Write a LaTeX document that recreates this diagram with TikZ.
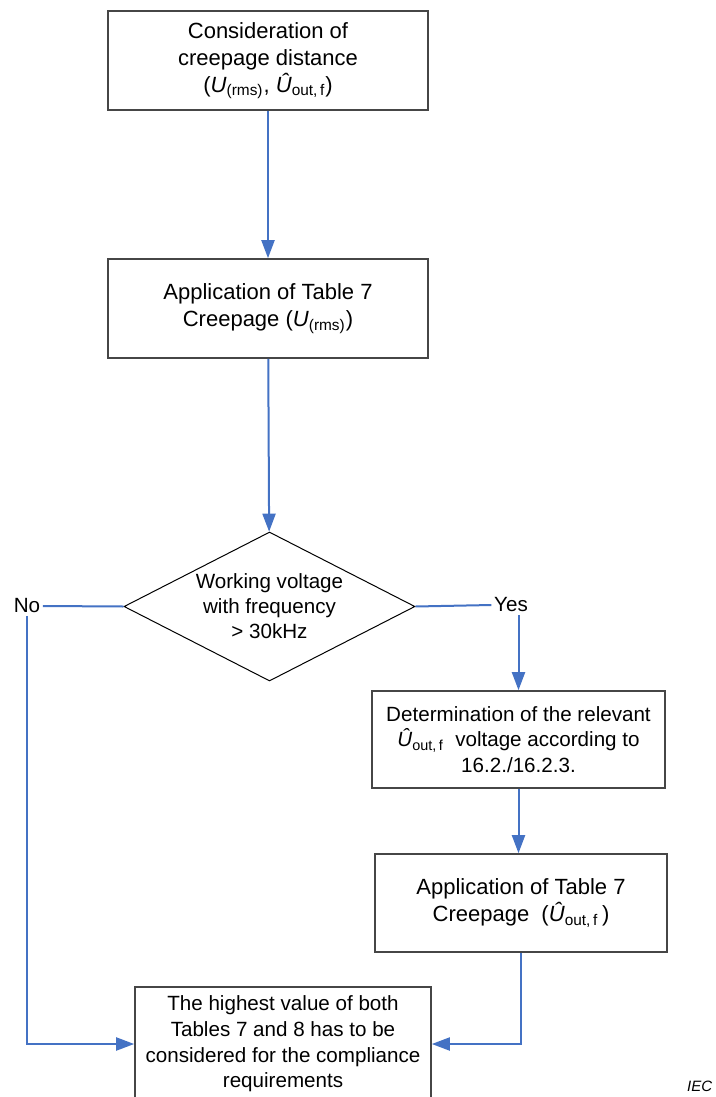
\documentclass[tikz,border=0pt]{standalone}
\usepackage{fontspec}
\setmainfont{Liberation Sans}
\usetikzlibrary{shapes.geometric,arrows.meta}
\definecolor{linkblue}{RGB}{68,114,196}
\definecolor{boxgray}{RGB}{70,70,70}
\newcommand{\Uhat}{\textit{Û}\textsubscript{out,\,f}}
\newcommand{\Urms}{\textit{U}\textsubscript{(rms)}}

\begin{document}
\begin{tikzpicture}[x=0.5pt, y=-0.5pt, thick,
    box/.style = {draw=boxgray, line width=0.8pt, align=center, inner sep=0pt, font=\fontsize{11}{13.5}\selectfont},
    smallbox/.style = {box, font=\fontsize{10.3}{12.8}\selectfont},
    dec/.style = {draw=black, line width=0.5pt, diamond, aspect=1.95, inner sep=0pt, align=center, font=\fontsize{10.3}{12.5}\selectfont},
    lbl/.style = {inner sep=1pt, font=\fontsize{10.3}{12}\selectfont},
    link/.style = {draw=linkblue, line width=1pt},
    flow/.style = {link, -{Triangle[length=9pt,width=6.5pt]}}]

    \useasboundingbox (0,0) rectangle (716,1097);
    \clip (0,0) rectangle (716,1097);

    \node[box, minimum width=160pt, minimum height=49.5pt] (b1) at (268,60.5) {Consideration of\\creepage distance\\(\Urms, \Uhat)};
    \node[box, minimum width=160pt, minimum height=49.5pt] (b2) at (268,308.5) {Application of Table 7\\Creepage (\Urms)};
    \node[dec, minimum width=145.5pt, minimum height=74.5pt] (d1) at (269.5,606.5) {Working voltage\\with frequency\\> 30kHz};
    \node[lbl] (no) at (27,606) {No};
    \node[lbl] (yes) at (511,605) {Yes};
    \node[smallbox, minimum width=146.5pt, minimum height=48.5pt] (b3) at (518.5,739.5) {Determination of the relevant\\\Uhat~ voltage according to\\16.2./16.2.3.};
    \node[box, minimum width=146pt, minimum height=49pt] (b4) at (521,903) {Application of Table 7\\Creepage~ (\Uhat\,)};
    \node[smallbox, minimum width=148pt, minimum height=57pt] (b5) at (283,1044) {The highest value of both\\Tables 7 and 8 has to be\\considered for the compliance\\requirements};
    \node[anchor=east, inner sep=0pt, font=\fontsize{7.5}{9}\selectfont\itshape] (iec) at (713,1086) {IEC};

    \draw[flow] (b1) -- (b2);
    \draw[flow] (b2) -- (d1);
    \draw[link] (d1.west) -- (no.east);
    \draw[link] (d1.east) -- (yes.west);
    \draw[flow] (no.south) |- (b5.west);
    \draw[flow] (b3.north |- yes.south) -- (b3.north);
    \draw[flow] (b3.south) -- (b3.south |- b4.north);
    \draw[flow] (b4.south) |- (b5.east);

\end{tikzpicture}
\end{document}
